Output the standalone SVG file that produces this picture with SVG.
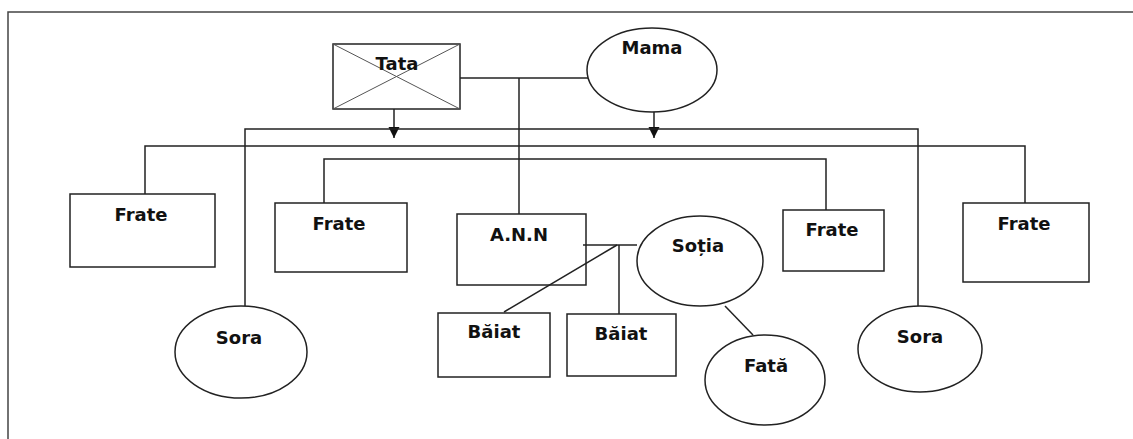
<svg xmlns="http://www.w3.org/2000/svg" width="1133" height="439" viewBox="0 0 1133 439">
<style>
.n{fill:#fff;stroke:#222;stroke-width:1.5}
.c{fill:none;stroke:#222;stroke-width:1.5}
.t{font-family:"DejaVu Sans","Liberation Sans",sans-serif;font-weight:bold;font-size:18px;fill:#111;text-anchor:middle}
</style>
<defs>
<marker id="ah" viewBox="0 0 10 10" refX="10" refY="5" markerWidth="11" markerHeight="12" markerUnits="userSpaceOnUse" orient="auto">
<path d="M0,0 L10,5 L0,10 z" fill="#111"/>
</marker>
</defs>
<rect width="1133" height="439" fill="#fff"/>
<path d="M8,439 V12 H1133" fill="none" stroke="#444" stroke-width="1.5"/>
<g id="tata">
<rect class="n" x="333" y="44" width="127" height="65"/>
<path d="M333,44 L460,109 M460,44 L333,109" stroke="#555" stroke-width="1"/>
<text class="t" x="397" y="70">Tata</text>
</g>
<g id="mama">
<ellipse class="n" cx="652" cy="70" rx="65" ry="42"/>
<text class="t" x="652" y="54">Mama</text>
</g>
<g id="frate1">
<rect class="n" x="70" y="194" width="145" height="73"/>
<text class="t" x="141" y="221">Frate</text>
</g>
<g id="frate2">
<rect class="n" x="275" y="203" width="132" height="69"/>
<text class="t" x="339" y="230">Frate</text>
</g>
<g id="ann">
<rect class="n" x="457" y="214" width="129" height="71"/>
<text class="t" x="519" y="241">A.N.N</text>
</g>
<g id="sotia">
<ellipse class="n" cx="700" cy="261" rx="63" ry="45"/>
<text class="t" x="698" y="252">Soția</text>
</g>
<g id="frate3">
<rect class="n" x="783" y="210" width="101" height="61"/>
<text class="t" x="832" y="236">Frate</text>
</g>
<g id="frate4">
<rect class="n" x="963" y="203" width="126" height="79"/>
<text class="t" x="1024" y="230">Frate</text>
</g>
<g id="sora1">
<ellipse class="n" cx="241" cy="352" rx="66" ry="46"/>
<text class="t" x="239" y="344">Sora</text>
</g>
<g id="baiat1">
<rect class="n" x="438" y="313" width="112" height="64"/>
<text class="t" x="494" y="338">Băiat</text>
</g>
<g id="baiat2">
<rect class="n" x="567" y="314" width="109" height="62"/>
<text class="t" x="621" y="340">Băiat</text>
</g>
<g id="fata">
<ellipse class="n" cx="765" cy="380" rx="60" ry="45"/>
<text class="t" x="766" y="372">Fată</text>
</g>
<g id="sora2">
<ellipse class="n" cx="920" cy="349" rx="62" ry="43"/>
<text class="t" x="920" y="343">Sora</text>
</g>
<g id="connectors">
<path class="c" d="M460,78 H588"/>
<path class="c" d="M519,78 V214"/>
<path class="c" d="M394,109 V138" marker-end="url(#ah)"/>
<path class="c" d="M654,112 V138" marker-end="url(#ah)"/>
<path class="c" d="M245,306 V129 H918 V306"/>
<path class="c" d="M145,194 V146 H1025 V203"/>
<path class="c" d="M324,203 V159 H826 V210"/>
<path class="c" d="M583,245 H637"/>
<path class="c" d="M619,245 V314"/>
<path class="c" d="M617,245 L504,312"/>
<path class="c" d="M725,306 L753,335"/>
</g>
</svg>
